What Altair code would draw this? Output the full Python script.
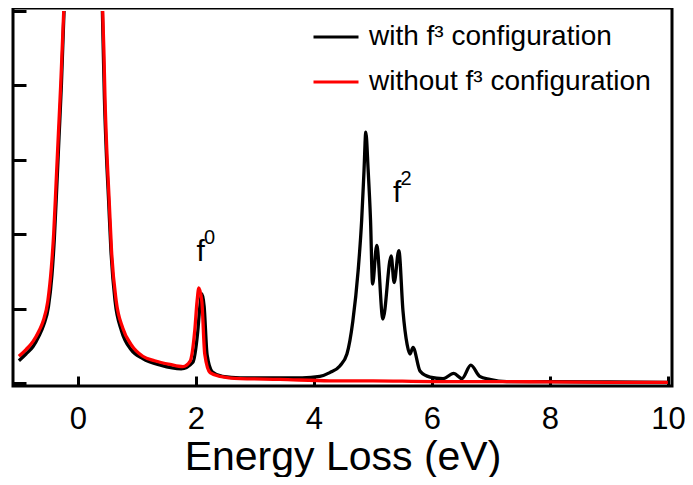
import altair as alt
import pandas as pd

LABEL_WITH = "\u00a0with f\u00b3 configuration"
LABEL_WITHOUT = "without f\u00b3 configuration"

# black curve: with f3 configuration (segment 0 = left flank of elastic line, 1 = rest)
with_x = [-1.0, -0.88, -0.76, -0.66, -0.58, -0.5, -0.44, -0.40, -0.36, -0.32, -0.28, -0.235,
          0.415, 0.43, 0.45, 0.48, 0.52, 0.56, 0.63, 0.74, 0.9, 1.1, 1.4, 1.75, 1.95, 2.03, 2.07,
          2.10, 2.14, 2.19, 2.28, 2.45, 2.75, 3.2, 3.8, 4.1, 4.27, 4.44, 4.56, 4.66, 4.75, 4.81,
          4.85, 4.88, 4.92, 4.96, 4.995, 5.065, 5.17, 5.31, 5.36, 5.44, 5.51, 5.58, 5.63, 5.68,
          5.8, 5.97, 6.19, 6.37, 6.51, 6.66, 6.81, 6.98, 7.27, 8.0, 9.0, 10.0]
with_y = [0.30, 0.39, 0.49, 0.63, 0.78, 1.02, 1.45, 1.93, 2.6, 3.3, 4.0, 5.0,
          5.0, 4.48, 3.81, 3.13, 2.46, 1.78, 1.10, 0.70, 0.45, 0.33, 0.24, 0.19, 0.28, 0.68, 1.05,
          1.20, 1.03, 0.38, 0.15, 0.09, 0.07, 0.07, 0.07, 0.09, 0.14, 0.23, 0.39, 0.83, 1.51, 2.19,
          2.86, 3.37, 2.86, 2.19, 1.33, 1.85, 0.86, 1.71, 1.35, 1.78, 0.97, 0.52, 0.39, 0.48,
          0.16, 0.08, 0.06, 0.13, 0.06, 0.24, 0.09, 0.05, 0.02, 0.02, 0.015, 0.01]
with_seg = [0] * 12 + [1] * 56

# red curve: without f3 configuration
without_x = [-1.0, -0.88, -0.76, -0.66, -0.59, -0.51, -0.45, -0.41, -0.37, -0.33, -0.29, -0.24,
             0.42, 0.44, 0.46, 0.49, 0.53, 0.57, 0.65, 0.76, 0.9, 1.1, 1.3, 1.56, 1.78, 1.9, 1.98,
             2.02, 2.05, 2.10, 2.15, 2.24, 2.41, 2.75, 3.42, 4.27, 5.0, 6.0, 7.0, 8.0, 9.0, 10.0]
without_y = [0.36, 0.45, 0.56, 0.70, 0.83, 1.10, 1.55, 2.01, 2.68, 3.36, 4.03, 5.0,
             5.0, 4.48, 3.81, 3.13, 2.46, 1.78, 1.10, 0.74, 0.52, 0.36, 0.30, 0.25, 0.22, 0.29, 0.70,
             1.10, 1.28, 1.10, 0.39, 0.14, 0.09, 0.06, 0.05, 0.03, 0.03, 0.02, 0.02, 0.015, 0.01, 0.01]
without_seg = [0] * 12 + [1] * 30

# peak annotations
ann_x = [2.08, 5.41]
ann_y = [1.64, 2.43]
ann_base = ["f", "f"]
ann_sup = ["0", "2"]

x_ticks = [0, 2, 4, 6, 8, 10]
y_ticks = [0, 1, 2, 3, 4, 5]

rows = []
for x, y, s in zip(with_x, with_y, with_seg):
    rows.append({"x": x, "y": y, "seg": "w%d" % s, "series": LABEL_WITH})
for x, y, s in zip(without_x, without_y, without_seg):
    rows.append({"x": x, "y": y, "seg": "n%d" % s, "series": LABEL_WITHOUT})
df = pd.DataFrame(rows)
ann = pd.DataFrame({"x": ann_x, "y": ann_y, "base": ann_base, "sup": ann_sup})

W, H = 659, 378
FONT = "Liberation Sans"

xscale = alt.Scale(domain=[-1.1, 10.07], nice=False, zero=False)
yscale = alt.Scale(domain=[-0.04, 5.04], nice=False, zero=False)

color = alt.Color(
    "series:N",
    scale=alt.Scale(domain=[LABEL_WITH, LABEL_WITHOUT], range=["#000000", "#ff0000"]),
    sort=[LABEL_WITH, LABEL_WITHOUT],
    legend=alt.Legend(
        title=None, orient="none", legendX=299, legendY=5, padding=0,
        symbolType="stroke", symbolSize=2025, symbolStrokeWidth=3,
        labelFontSize=28, labelFont=FONT, labelColor="#000000",
        labelOffset=9, rowPadding=7, labelLimit=400,
    ),
)

base = alt.Chart(df)

black = base.transform_filter(alt.datum.series == LABEL_WITH).mark_line(
    strokeWidth=3.3, interpolate="monotone", clip=True
).encode(
    x=alt.X("x:Q", scale=xscale, axis=alt.Axis(
        orient="bottom", values=x_ticks, tickSize=0, labelPadding=18,
        labelFontSize=31, labelFont=FONT, labelColor="#000000",
        title="Energy Loss (eV)", titleFontSize=41, titleFont=FONT,
        titleFontWeight="normal", titleColor="#000000", titlePadding=3,
        domain=False, grid=False)),
    y=alt.Y("y:Q", scale=yscale, axis=None),
    color=color,
    detail="seg:N",
)

red = base.transform_filter(alt.datum.series == LABEL_WITHOUT).mark_line(
    strokeWidth=3.3, interpolate="monotone", clip=True
).encode(
    x=alt.X("x:Q", scale=xscale, title=None, axis=alt.Axis(
        orient="top", offset=-H, values=x_ticks, tickSize=10, tickWidth=3,
        tickColor="#000000", labels=False, domain=False, grid=False)),
    y=alt.Y("y:Q", scale=yscale, title=None, axis=alt.Axis(
        orient="right", offset=-W, values=y_ticks, tickSize=13, tickWidth=3,
        tickColor="#000000", labels=False, domain=False, grid=False)),
    color=color,
    detail="seg:N",
)

ann_base_layer = alt.Chart(ann).mark_text(
    fontSize=30, font=FONT, color="#000000", align="center", baseline="alphabetic"
).encode(
    x=alt.X("x:Q", scale=xscale, axis=None),
    y=alt.Y("y:Q", scale=yscale, axis=None),
    text="base:N",
)

ann_sup_layer = alt.Chart(ann).mark_text(
    fontSize=20, font=FONT, color="#000000", align="center", baseline="alphabetic",
    dx=9, dy=-17
).encode(
    x=alt.X("x:Q", scale=xscale, axis=None),
    y=alt.Y("y:Q", scale=yscale, axis=None),
    text="sup:N",
)

chart = alt.layer(black, red, ann_base_layer, ann_sup_layer).resolve_axis(
    x="independent", y="independent"
).properties(
    width=W, height=H,
    background="#ffffff",
    autosize=alt.AutoSizeParams(type="none"),
    padding={"left": 5, "top": 0, "right": 13, "bottom": 91},
).configure_view(
    stroke="#000000", strokeWidth=3
)

chart.save("out.html", embed_options={"renderer": "svg", "actions": False})
